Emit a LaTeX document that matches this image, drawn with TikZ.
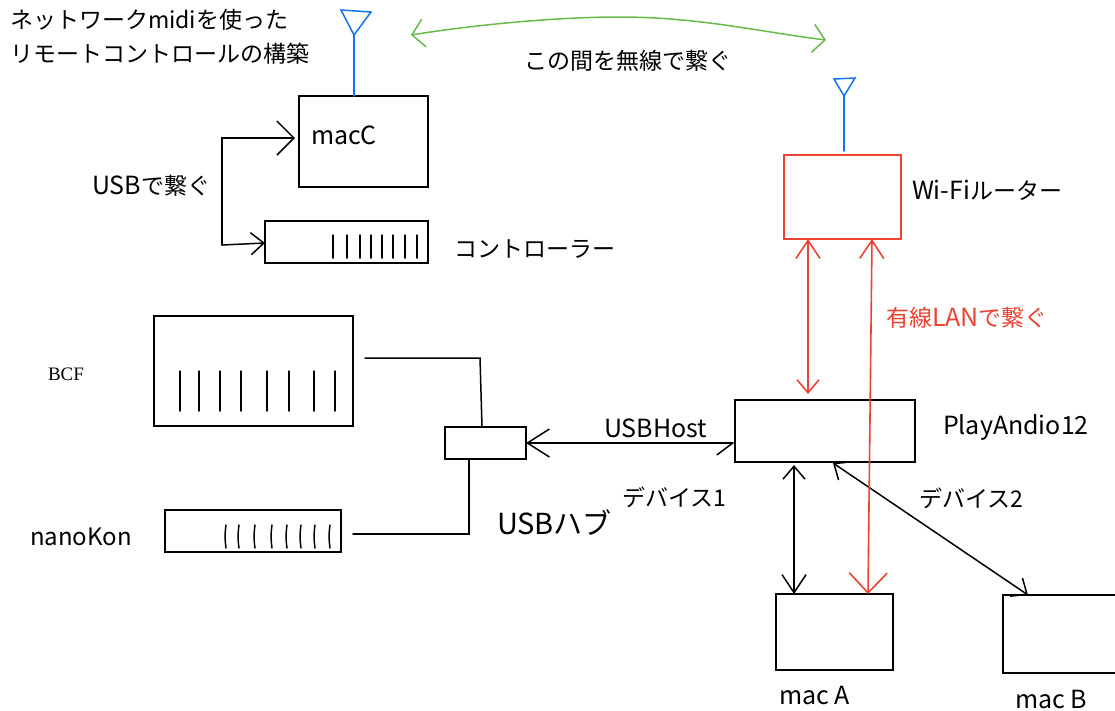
\documentclass[tikz,border=0pt]{standalone}
\usepackage{fontspec}
\setmainfont{Noto Sans CJK JP}
\newfontfamily\bcffont{Liberation Serif}
\newcommand\ltn{\fontsize{25}{34}\selectfont}
\definecolor{wirered}{RGB}{235,66,50}
\definecolor{wireblue}{RGB}{20,115,240}
\definecolor{wiregreen}{RGB}{105,185,75}
\usetikzlibrary{arrows.meta,positioning}

\begin{document}
\begin{tikzpicture}[x=1pt,y=-1pt,
        line cap=round,
        box/.style={draw,line width=1.6pt,inner sep=0pt,outer sep=0pt},
        lbl/.style={anchor=west,inner sep=0pt,outer sep=0pt,font=\fontsize{23}{34}\selectfont},
        wire/.style={line width=1.5pt},
        redwire/.style={line width=1.6pt,wirered},
        antenna/.style={line width=1.5pt,wireblue},
        bigbarb/.tip={Straight Barb[length=17pt,width=34pt]},
        midbarb/.tip={Straight Barb[length=13pt,width=22pt]},
        redbarb/.tip={Straight Barb[length=18pt,width=24pt]},
        longbarb/.tip={Straight Barb[length=20pt,width=38pt]},
        airbarb/.tip={Straight Barb[length=12pt,width=28pt]}]
        \useasboundingbox (0,0) rectangle (1115,710);

        \node[box,minimum width=129pt,minimum height=91pt] (macC) at (363.5,141.5) {};
        \node[box,minimum width=163pt,minimum height=42pt] (ctrl) at (346.5,242) {};
        \node[box,minimum width=199pt,minimum height=110pt] (bcf) at (253.5,371) {};
        \node[box,minimum width=176pt,minimum height=42pt] (nano) at (253,531) {};
        \node[box,minimum width=81pt,minimum height=32pt] (hub) at (485.5,443) {};
        \node[box,minimum width=180pt,minimum height=62pt] (play) at (825,431) {};
        \node[box,minimum width=117pt,minimum height=76pt] (macA) at (834.5,632) {};
        \node[box,minimum width=124pt,minimum height=78pt] (macB) at (1065,634) {};
        \node[box,draw=wirered,minimum width=117pt,minimum height=84pt] (wifi) at (842.5,197) {};

        \node[lbl,align=left] (title) at (10,37) {ネットワークmidiを使った\\リモートコントロールの構築};
        \node[lbl,font=\ltn] (macClbl) at (311,135) {macC};
        \node[lbl] (usblbl) at (92,186) {{\ltn USB}で繋ぐ};
        \node[lbl] (ctrllbl) at (454,249) {コントローラー};
        \node[lbl] (airlbl) at (524,61) {この間を無線で繋ぐ};
        \node[lbl] (wifilbl) at (912,190) {{\ltn Wi-Fi}ルーター};
        \node[lbl,text=wirered] (lanlbl) at (886,318) {有線{\ltn LAN}で繋ぐ};
        \node[lbl,font=\ltn] (playlbl) at (943,427) {PlayAndio12};
        \node[lbl,font=\ltn] (hostlbl) at (604,428) {USBHost};
        \node[lbl] (dev1) at (622,497) {デバイス1};
        \node[lbl] (dev2) at (919,498) {デバイス2};
        \node[lbl,font=\fontsize{29}{34}\selectfont] (hublbl) at (497,523) {USBハブ};
        \node[lbl,font=\fontsize{24}{34}\selectfont] (nanolbl) at (30,537) {nanoKon};
        \node[lbl,font=\ltn] (macAlbl) at (779,695) {mac A};
        \node[lbl,font=\ltn] (macBlbl) at (1015,699) {mac B};
        \node[lbl,font=\fontsize{19}{22}\selectfont\bcffont] (bcflbl) at (48,374) {BCF};

        \foreach \x in {333,347,360,371,382,393,405,417}
          \draw[wire] (\x,235) -- (\x,258);
        \foreach \x in {180,199,220,241,267,289,314,335}
          \draw[wire] (\x,371) -- (\x,411);
        \foreach \x in {226,239,255,272,287,301,315,330}
          \draw[wire] (\x,525) to[bend right=8] (\x,548);

        \coordinate (usbturn) at (222,245);
        \draw[wire,-bigbarb] (usbturn) |- ([xshift=-4pt,yshift=3.5pt]macC.west);
        \draw[wire,-midbarb] (usbturn) -- ([yshift=-1pt]ctrl.west);

        \coordinate (bcfend) at (365,358);
        \coordinate (bcfturn) at (480,358);
        \coordinate (nanoend) at (353,534);
        \coordinate (nanoturn) at (469,534);
        \draw[wire] (bcfend) -- (bcfturn) -- ([xshift=-3.5pt]hub.north);
        \draw[wire] (nanoend) -- (nanoturn) -- (nanoturn |- hub.south);
        \draw[wire,{Straight Barb[harpoon,swap,length=16pt,width=24pt]}-{Straight Barb[length=22pt,width=28pt]}]
          ([yshift=-12pt]play.west) -- (hub.east);
        \draw[wire,midbarb-redbarb] ([xshift=-31pt,yshift=-3pt]play.south) -- ([xshift=-40.5pt]macA.north);
        \draw[wire,midbarb-midbarb] ([xshift=8pt,yshift=-1pt]play.south) -- ([xshift=25pt]macB.north west);

        \draw[redwire,redbarb-longbarb] ([xshift=29.5pt]wifi.south) -- ([xshift=33.5pt]macA.north);
        \draw[redwire,redbarb-midbarb] ([xshift=-34.5pt]wifi.south) -- ([xshift=-17pt,yshift=6pt]play.north);

        \coordinate (antC) at (354,35);
        \coordinate (antW) at (844,96);
        \draw[antenna] (341,10) -- (371,12) -- (antC) -- cycle;
        \draw[antenna] (antC) -- ([xshift=-9.5pt]macC.north);
        \draw[antenna] (834,79) -- (855,78) -- (antW) -- cycle;
        \draw[antenna] (antW) -- ([xshift=1.5pt,yshift=4pt]wifi.north);

        \coordinate (airL) at (411,35);
        \coordinate (airR) at (826,40);
        \draw[line width=1.5pt,wiregreen,airbarb-airbarb] (airL) .. controls (480,24) and (560,17) .. (619,17)
          .. controls (700,17) and (760,32) .. (airR);
      \end{tikzpicture}
\end{document}
